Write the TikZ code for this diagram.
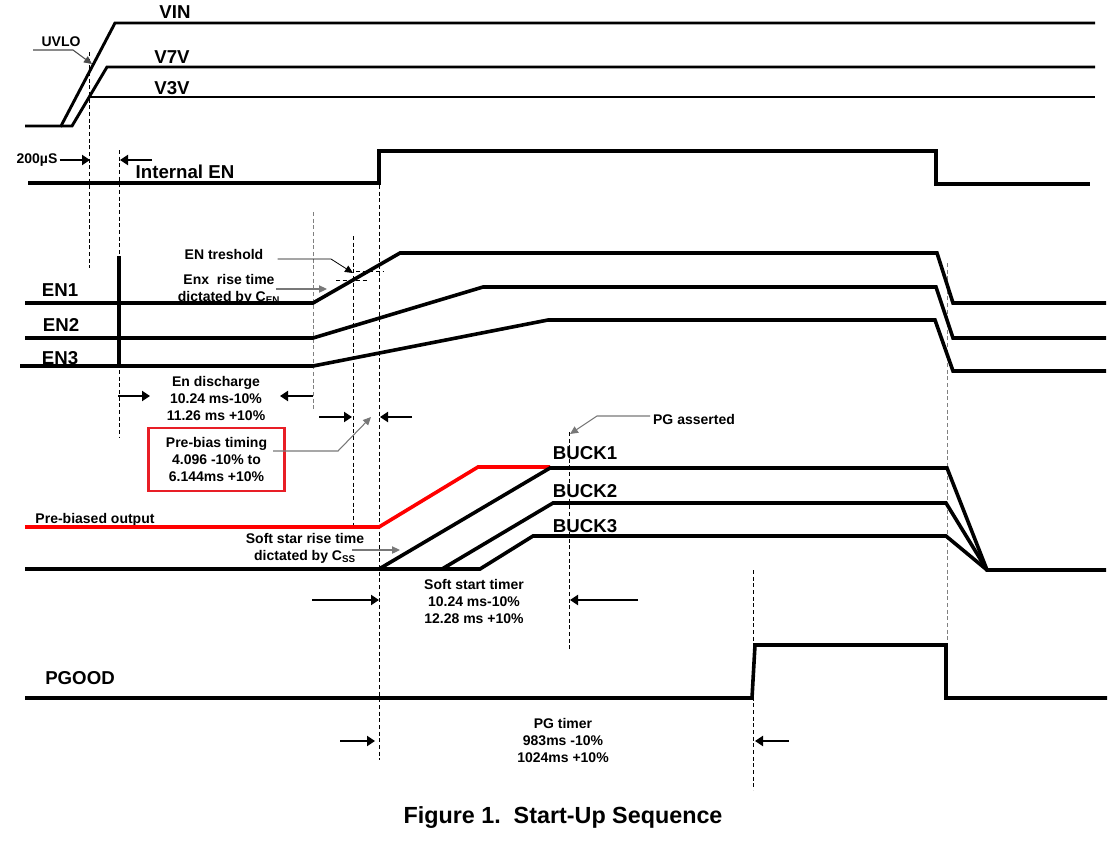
\documentclass[tikz,border=0pt]{standalone}
\usepackage{fontspec}
\setmainfont{Liberation Sans}
\usetikzlibrary{arrows.meta}
\definecolor{boxred}{RGB}{232,30,38}
\definecolor{wavered}{RGB}{255,0,0}
\definecolor{leadgray}{RGB}{120,120,120}
\begin{document}
\begin{tikzpicture}[x=0.75pt,y=-0.75pt,
  sig/.style={line width=2.7pt, line join=miter, line cap=butt},
  topsig/.style={line width=2.2pt, line join=miter},
  dsh/.style={line width=0.65pt, dash pattern=on 3pt off 2pt},
  gdsh/.style={dsh, draw=gray},
  big/.style={font=\fontsize{14}{16}\selectfont\bfseries, inner sep=0pt},
  lbl/.style={font=\fontsize{10.5}{12.75}\selectfont\bfseries, inner sep=0pt, align=center},
  dimarr/.style={line width=1.5pt, -{Triangle[length=6pt,width=7.5pt]}},
  lead/.style={draw=leadgray, line width=0.8pt, -{Triangle[length=6pt,width=5.5pt]}},
  blead/.style={lead, draw=black, line width=0.6pt},
]
\useasboundingbox (0,0) rectangle (1117,840);

% ---------- labels ----------
\node[big] (vin) at (175,12) {VIN};
\node[big] (v7v) at (172,57) {V7V};
\node[big] (v3v) at (172,88) {V3V};
\node[lbl] (uvlo) at (61,42) {UVLO};
\node[lbl] (t200) at (37,160) {200µS};
\node[big] (ien) at (185,172) {Internal EN};
\node[big] (en1) at (60,290) {EN1};
\node[big] (en2) at (61,325) {EN2};
\node[big] (en3) at (60,358) {EN3};
\node[lbl] (enth) at (224,254) {EN treshold};
\node[lbl] (enx) at (229,289) {Enx\ \ rise time\\dictated by C\textsubscript{EN}};
\node[lbl] (endis) at (216,398) {En discharge\\10.24 ms-10\%\\11.26 ms +10\%};
\node[lbl, draw=boxred, line width=1.6pt, minimum width=102pt, minimum height=47pt] (prebias) at (216.5,459.5) {Pre-bias timing\\4.096 -10\% to\\6.144ms +10\%};
\node[lbl] (preout) at (95,520) {Pre-biased output};
\node[lbl] (sstar) at (305,548) {Soft star rise time\\dictated by C\textsubscript{SS}};
\node[lbl] (sstimer) at (474,601) {Soft start timer\\10.24 ms-10\%\\12.28 ms +10\%};
\node[lbl] (pgas) at (694,419) {PG asserted};
\node[big] (b1) at (585,453) {BUCK1};
\node[big] (b2) at (585,491) {BUCK2};
\node[big] (b3) at (585,526) {BUCK3};
\node[big] (pgood) at (80,678) {PGOOD};
\node[lbl] (pgt) at (563,740) {PG timer\\983ms -10\%\\1024ms +10\%};
\node[font=\fontsize{17.5}{20}\selectfont\bfseries, inner sep=0pt] (cap) at (563,818) {Figure 1.\ \ Start-Up Sequence};

% ---------- dashed guides ----------
\draw[dsh] (89,52) -- (89,268);
\draw[dsh] (119,150) -- (119,438);
\draw[gdsh] (313,212) -- (313,410);
\draw[dsh] (353,236) -- (353,525);
\draw[dsh] (379,185) -- (379,760);
\draw[dsh] (569,432) -- (569,650);
\draw[dsh] (753,570) -- (753,790);
\draw[gdsh] (947,263) -- (947,645);
\draw[dsh] (336,280) -- (368,280);
\draw[dsh] (356,271) -- (384,271);

% ---------- waveforms ----------
\draw[topsig] (25,126) -- (61,126) -- (115,23) -- (1095,23);
\draw[topsig] (61,126) -- (72,126) -- (107,67) -- (1095,67);
\draw[topsig] (90,97) -- (1095,97);
\draw[sig] (28,183) -- (379,183) -- (379,151) -- (936,151) -- (936,184) -- (1090,184);

\draw[sig] (25,303) -- (313,303) -- (400,253) -- (937,253) -- (953,303) -- (1106,303);
\draw[sig] (25,338) -- (313,338) -- (483,287) -- (936,287) -- (953,338) -- (1106,338);
\draw[sig] (20,366) -- (313,366) -- (548,320) -- (935,320) -- (953,371) -- (1106,371);
\draw[line width=3pt] (119,256) -- (119,368);

\draw[sig, wavered] (25,527) -- (379,527) -- (478,467) -- (550,467);
\draw[sig] (25,569) -- (379,569) -- (550,468) -- (947,468) -- (987,570) -- (1106,570);
\draw[sig] (379,569) -- (442,569) -- (553,503) -- (946,503) -- (987,570);
\draw[sig] (442,569) -- (480,569) -- (533,536) -- (946,536) -- (987,570);

\draw[sig] (25,698) -- (752,698) -- (755,645) -- (946,645) -- (946,698) -- (1107,698);

% ---------- arrows and leaders ----------
\coordinate (uvloA) at (33,50);
\coordinate (uvloB) at (73,50);
\coordinate (uvloT) at (92,64);
\draw[lead, draw=black!70] (uvloA) -- (uvloB) -- (uvloT);

\draw[dimarr] (t200.east) ++(2,0) -- (90,160);
\draw[dimarr] (152,160) -- (120,160);

\draw[blead] (enth.east) ++(14,5) -- (331,259) -- (353,273);
\draw[lead] (276,289) -- (327,289);

\draw[dimarr] (118,396) -- (150,396);
\draw[dimarr] (313,396) -- (280,396);

\draw[dimarr] (319,417) -- (352,417);
\draw[dimarr] (412,417) -- (380,417);
\draw[lead] (273,451) -- (338,451) -- (371,417);

\draw[lead] (352,550) -- (400,550);

\draw[dimarr] (312,600) -- (379,600);
\draw[dimarr] (638,600) -- (570,600);

\draw[lead] (650,416) -- (597,416) -- (570,434);

\draw[dimarr] (340,741) -- (375,741);
\draw[dimarr] (789,741) -- (755,741);
\end{tikzpicture}
\end{document}
